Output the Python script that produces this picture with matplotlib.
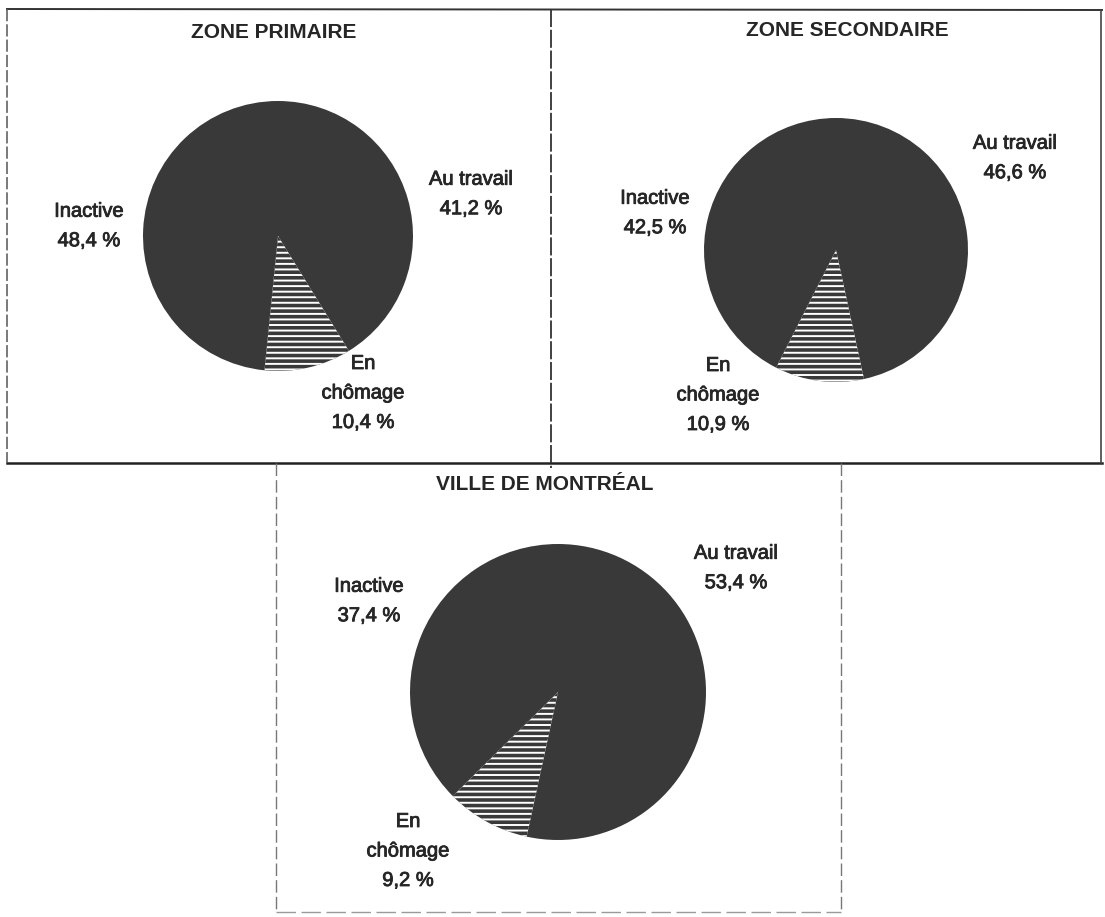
import matplotlib
matplotlib.use("Agg")
import matplotlib.pyplot as plt
import matplotlib.patheffects as pe

# categories, in the order the pies are drawn (clockwise from 12 o'clock)
categories = ["Au travail", "En\nchômage", "Inactive"]

titles = ["ZONE PRIMAIRE", "ZONE SECONDAIRE", "VILLE DE MONTRÉAL"]
zone_primaire = [41.2, 10.4, 48.4]
zone_secondaire = [46.6, 10.9, 42.5]
ville_montreal = [53.4, 9.2, 37.4]
series = [zone_primaire, zone_secondaire, ville_montreal]

# layout in pixels (figure is 1105 x 917)
W, H = 1105, 917
pie_centers = [(278, 236), (836, 250), (558, 692)]
pie_radius = [135, 132, 148]
title_pos = [(274, 32), (847, 30), (545, 485)]
# label block centers: au travail, chomage, inactive
label_pos = [
    [(471, 194), (363, 393), (89, 226)],
    [(1015, 158), (718, 395), (655, 213)],
    [(736, 568), (408, 851), (369, 601)],
]

dark = "#393939"
text_col = "#262626"

plt.rcParams["font.family"] = ["Liberation Sans", "DejaVu Sans"]
plt.rcParams["hatch.linewidth"] = 1.4

fig = plt.figure(figsize=(W / 100, H / 100), dpi=100)
fig.patch.set_facecolor("white")

# overlay in pixel coordinates for frames and text
ov = fig.add_axes([0, 0, 1, 1])
ov.set_xlim(0, W)
ov.set_ylim(H, 0)
ov.axis("off")

# frames around the three panels (scanned look: solid top/bottom, broken sides)
ov.plot([7, 1102], [9, 10], color="#333333", lw=1.4)
ov.plot([7, 1102], [463, 463], color="#222222", lw=1.8)
ov.plot([7, 7], [9, 463], color="#555555", lw=1.1, ls=(0, (8, 2)))
ov.plot([551, 551], [9, 468], color="#333333", lw=1.3, ls=(0, (10, 1.5)))
ov.plot([1101, 1101], [10, 463], color="#444444", lw=1.2)
ov.plot([276, 276], [463, 912], color="#777777", lw=1.0, ls=(0, (9, 3)))
ov.plot([841, 841], [463, 912], color="#777777", lw=1.0, ls=(0, (9, 3)))
ov.plot([276, 841], [912, 912], color="#9a9a9a", lw=1.0, ls=(0, (14, 4)))

thick = [pe.withStroke(linewidth=0.6, foreground=text_col)]

for i, vals in enumerate(series):
    cx, cy = pie_centers[i]
    r = pie_radius[i]
    ax = fig.add_axes([(cx - r) / W, 1 - (cy + r) / H, 2 * r / W, 2 * r / H])
    wedges, _ = ax.pie(vals, startangle=90, counterclock=False,
                       colors=[dark] * len(vals),
                       wedgeprops=dict(linewidth=0))
    # unemployed slice is hatched with white horizontal stripes
    wedges[1].set_edgecolor("white")
    wedges[1].set_linewidth(0)
    wedges[1].set_hatch("---")
    ax.set_xlim(-1, 1)
    ax.set_ylim(-1, 1)
    ax.axis("off")

    ov.text(title_pos[i][0], title_pos[i][1], titles[i], ha="center", va="center",
            fontsize=15, fontweight="bold", color=text_col)
    for j, cat in enumerate(categories):
        pct = f"{vals[j]:.1f} %".replace(".", ",")
        lx, ly = label_pos[i][j]
        ov.text(lx, ly, cat + "\n" + pct, ha="center", va="center",
                multialignment="center", fontsize=14.5, color=text_col,
                linespacing=1.7, path_effects=thick)

fig.savefig("out.png", dpi=100, facecolor="white")
